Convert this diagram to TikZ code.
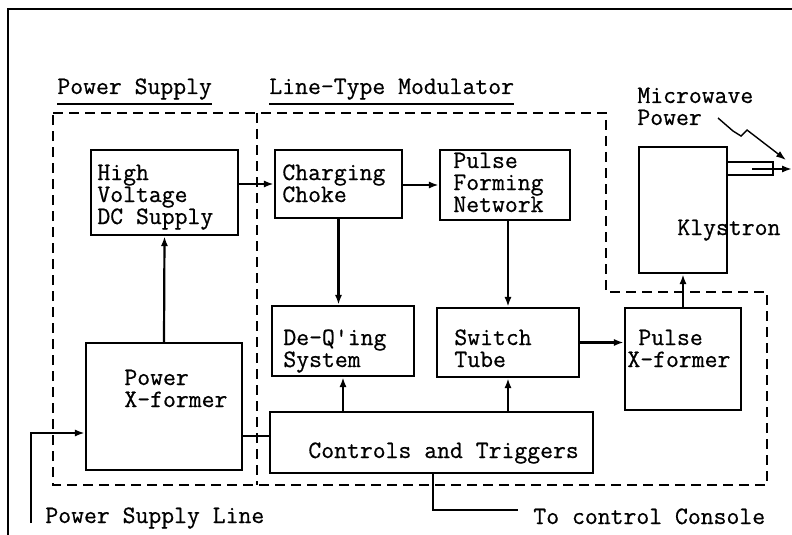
\documentclass[tikz,border=0pt]{standalone}
\usepackage{fontspec}
\newfontfamily\tw[FakeBold=0.6]{Latin Modern Mono}
\usetikzlibrary{fit,arrows.meta}
\begin{document}
\begin{tikzpicture}[x=0.5pt,y=-0.5pt,
  box/.style={draw,line width=1.2pt,inner sep=0pt},
  conn/.style={line width=1.1pt},
  arr/.style={line width=1.1pt,-{Latex[length=5pt,width=3.6pt]}},
  grp/.style={line width=1.2pt,dash pattern=on 5pt off 3pt},
  txt/.style={anchor=base west,inner sep=0pt,align=left,font=\tw\fontsize{12.5}{11}\selectfont}]
\useasboundingbox (0,0) rectangle (792,535);
% outer frame
\coordinate (f1) at (8,535); \coordinate (f2) at (8,9); \coordinate (f3) at (792,9);
\draw[line width=1.2pt] (f1) -- (f2) -- (f3);
% group titles
\node[txt] (tps) at (57,94) {Power Supply};
\node[txt] (tlm) at (269,94) {Line-Type Modulator};
\draw[line width=0.8pt] (tps.south west) ++(0,4) coordinate (u1) -- (u1 -| tps.east);
\draw[line width=0.8pt] (tlm.south west) ++(0,4) coordinate (u2) -- (u2 -| tlm.east);
% dashed regions
\coordinate (d1) at (53,113); \coordinate (d2) at (606,113); \coordinate (d3) at (606,292);
\coordinate (d4) at (767,292); \coordinate (d5) at (767,485); \coordinate (d6) at (53,485);
\coordinate (d7) at (257,113); \coordinate (d8) at (257,485);
\draw[grp] (d1) -- (d2) -- (d3) -- (d4) -- (d5) -- (d6) -- cycle;
\draw[grp] (d7) -- (d8);
% boxes
\node[box,fit={(91,150) (238,235)}] (hv) {};
\node[box,fit={(275,150) (402,218)}] (choke) {};
\node[box,fit={(440,150) (570,220)}] (pfn) {};
\node[box,fit={(639,147) (727,273)}] (kly) {};
\node[box,fit={(86,343) (242,470)}] (pwx) {};
\node[box,fit={(272,306) (414,376)}] (deq) {};
\node[box,fit={(437,308) (579,377)}] (sw) {};
\node[box,fit={(625,308) (741,410)}] (pxf) {};
\node[box,fit={(270,412) (593,473)}] (ctl) {};
% texts (anchor = baseline of the last line)
\node[txt] (hvt) at (97,224) {High\\Voltage\\DC Supply};
\node[txt] (cht) at (282,202) {Charging\\Choke};
\node[txt] (pft) at (453,212) {Pulse\\Forming\\Network};
\node[txt] (mwt) at (637,125) {Microwave\\Power};
\node[txt] (klt) at (677,235) {Klystron};
\node[txt] (pwt) at (124,407) {Power\\X-former};
\node[txt] (dqt) at (283,367) {De-Q'ing\\System};
\node[txt] (swt) at (454,367) {Switch\\Tube};
\node[txt] (px1) at (638,345) {Pulse};
\node[txt] (px2) at (627,367) {X-former};
\node[txt] (ctt) at (308,458) {Controls and Triggers};
\node[txt] (psl) at (45,523) {Power Supply Line};
\node[txt] (tcc) at (533,524) {To control Console};
% connectors
\draw[arr] (hv.east |- choke.west) -- (choke.west);
\draw[arr] (choke.east |- pfn.west) -- (pfn.west);
\draw[arr] (pwx.north) -- (hv.south);
\draw[arr] (choke.south) -- (choke.south |- deq.north);
\draw[arr] (deq.south |- ctl.north) -- (deq.south);
\draw[arr] (sw.north |- pfn.south) -- (sw.north);
\draw[arr] (sw.south |- ctl.north) -- (sw.south);
\draw[arr] (sw.east) -- (pxf.west |- sw.east);
\draw[arr] (pxf.north) -- (pxf.north |- kly.south);
\coordinate (j1) at (256,436);
\draw[conn] (pwx.east |- j1) -- (ctl.west |- j1);
\coordinate (p0) at (31,523); \coordinate (p1) at (60,433);
\draw[arr] (p0) |- (pwx.west |- p1);
\coordinate (c0) at (433,0); \coordinate (c1) at (518,510);
\draw[conn] (ctl.south -| c0) |- (c1);
% waveguide
\coordinate (w1) at (773,162); \coordinate (w2) at (773,175);
\draw[line width=1.2pt] (kly.east |- w1) -- (w1) -- (w2) -- (kly.east |- w2);
\coordinate (wa) at (752,169); \coordinate (wb) at (792,169);
\draw[arr] (wa) -- (wb);
% squiggle pointer
\coordinate (s0) at (718,118); \coordinate (s1) at (733,131); \coordinate (s2) at (741,136);
\coordinate (s3) at (747,130); \coordinate (s4) at (786,160);
\draw[line width=0.7pt,-{Latex[length=5pt,width=3.4pt]}] (s0) -- (s1) -- (s2) -- (s3) -- (s4);
\end{tikzpicture}
\end{document}
